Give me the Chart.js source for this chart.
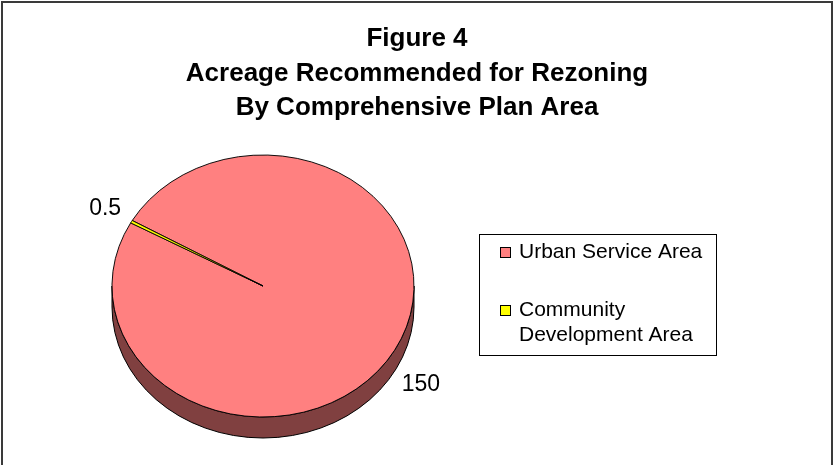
<!DOCTYPE html>
<html lang="en">
<head>
  <meta charset="UTF-8" />
  <title>Figure 4 - Acreage Recommended for Rezoning</title>
  <script src="https://cdn.jsdelivr.net/npm/chart.js"></script>
  <style>
    body {
      margin: 0;
      background: #fff;
    }
    #wrap {
      width: 834px;
      height: 465px;
    }
  </style>
</head>
<body>
  <div id="wrap">
    <canvas id="pie" width="834" height="465"></canvas>
  </div>

  <script>
    // data
    const titleLines = ['Figure 4', 'Acreage Recommended for Rezoning', 'By Comprehensive Plan Area'];
    const areas = ['Urban Service Area', 'Community Development Area'];
    const acres = [150, 0.5];
    const sliceColors = ['#FF8080', '#FFFF00'];
    const sideColors = ['#804040', '#808000'];

    const FONT = '"Liberation Sans", Arial, sans-serif';

    // where the flattened pie sits
    const pieX = 263, pieY = 286, pieR = 151, pieRy = 131, depth = 21;

    // outer frame + white background
    const frame = {
      id: 'frame',
      beforeDraw(chart) {
        const ctx = chart.ctx;
        ctx.save();
        ctx.fillStyle = '#fff';
        ctx.fillRect(0, 0, chart.width, chart.height);
        ctx.strokeStyle = '#3a3a3a';
        ctx.lineWidth = 2;
        ctx.strokeRect(2, 2, 830, 480);
        ctx.restore();
      }
    };

    // squash the pie into an ellipse and give it a side wall
    const pie3d = {
      id: 'pie3d',
      beforeDatasetsDraw(chart) {
        const ctx = chart.ctx;
        const arcs = chart.getDatasetMeta(0).data;
        ctx.save();
        // side wall, only the part facing us (0..PI)
        arcs.forEach((arc, i) => {
          for (let k = -2; k <= 4; k += 2) {
            const lo = Math.max(arc.startAngle, k * Math.PI);
            const hi = Math.min(arc.endAngle, (k + 1) * Math.PI);
            if (lo >= hi) continue;
            ctx.beginPath();
            ctx.ellipse(pieX, pieY, pieR, pieRy, 0, lo, hi);
            ctx.ellipse(pieX, pieY + depth, pieR, pieRy, 0, hi, lo, true);
            ctx.closePath();
            ctx.fillStyle = sideColors[i];
            ctx.fill();
            ctx.strokeStyle = '#000';
            ctx.lineWidth = 1;
            ctx.stroke();
          }
        });
        const c = arcs[0];
        ctx.translate(pieX, pieY);
        ctx.scale(1, pieRy / pieR);
        ctx.translate(-c.x, -c.y);
      },
      afterDatasetsDraw(chart) {
        const ctx = chart.ctx;
        ctx.restore();
        // value labels outside the slices
        const arcs = chart.getDatasetMeta(0).data;
        ctx.save();
        ctx.font = '23px ' + FONT;
        ctx.fillStyle = '#000';
        ctx.textAlign = 'center';
        ctx.textBaseline = 'middle';
        arcs.forEach((arc, i) => {
          const mid = (arc.startAngle + arc.endAngle) / 2;
          const ex = Math.cos(mid), ey = Math.sin(mid);
          const x = pieX + pieR * 1.2 * ex;
          const y = pieY + pieRy * 1.2 * ey + (ey > 0 ? depth : 0);
          ctx.fillText(String(chart.data.datasets[0].data[i]), x, y);
        });
        ctx.restore();
      }
    };

    // boxed legend on the right
    const boxLegend = {
      id: 'boxLegend',
      afterDraw(chart) {
        const ctx = chart.ctx;
        const ds = chart.data.datasets[0];
        ctx.save();
        ctx.strokeStyle = '#000';
        ctx.lineWidth = 1;
        ctx.strokeRect(479.5, 234.5, 237, 121);
        ctx.font = '21px ' + FONT;
        ctx.textBaseline = 'alphabetic';
        let top = 247;
        chart.data.labels.forEach((label, i) => {
          ctx.fillStyle = ds.backgroundColor[i];
          ctx.fillRect(500, top, 11, 11);
          ctx.strokeRect(500.5, top + 0.5, 10, 10);
          // wrap words to the box width
          const words = label.split(' ');
          const lines = [];
          let line = '';
          words.forEach(w => {
            const t = line ? line + ' ' + w : w;
            if (line && ctx.measureText(t).width > 192) {
              lines.push(line);
              line = w;
            } else {
              line = t;
            }
          });
          lines.push(line);
          ctx.fillStyle = '#000';
          lines.forEach((l, j) => ctx.fillText(l, 519, top + 11 + j * 25));
          top += 58;
        });
        ctx.restore();
      }
    };

    new Chart(document.getElementById('pie'), {
      type: 'pie',
      data: {
        labels: areas,
        datasets: [{
          data: acres,
          backgroundColor: sliceColors,
          borderColor: '#000',
          borderWidth: 1
        }]
      },
      options: {
        responsive: false,
        devicePixelRatio: 1,
        animation: false,
        rotation: 300,
        radius: pieR,
        plugins: {
          legend: { display: false },
          tooltip: { enabled: false },
          title: {
            display: true,
            text: titleLines,
            color: '#000',
            font: { family: FONT, size: 26, weight: 'bold', lineHeight: 1.32 },
            padding: { top: 22, bottom: 10 }
          }
        }
      },
      plugins: [frame, pie3d, boxLegend]
    });
  </script>
</body>
</html>
